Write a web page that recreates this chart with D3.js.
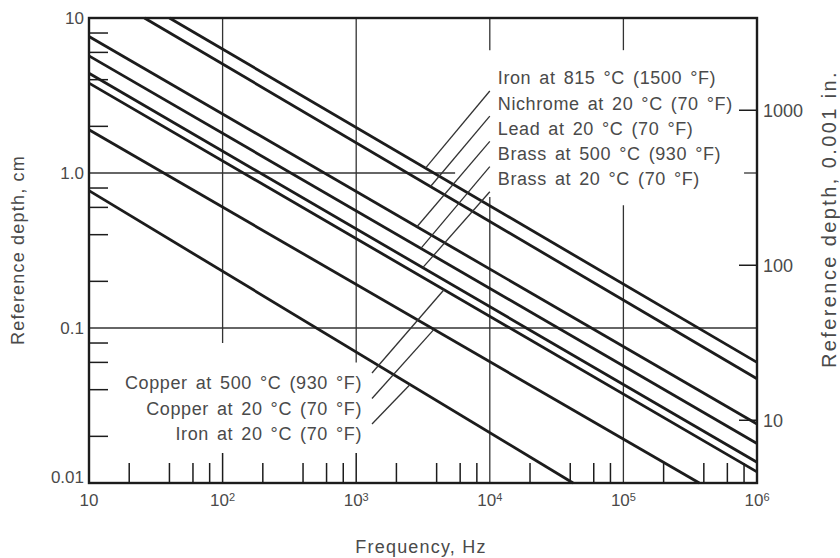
<!DOCTYPE html>
<meta charset="utf-8">
<style>
    body { margin: 0; background: #fff; }
    svg { display: block; font-family: "Liberation Sans", Arial, sans-serif; }
</style>
<svg width="840" height="558"></svg>

<script src="https://d3js.org/d3.v7.min.js"></script>
<script>
    var materials = [
        "Iron at 815 \u00b0C (1500 \u00b0F)",
        "Nichrome at 20 \u00b0C (70 \u00b0F)",
        "Lead at 20 \u00b0C (70 \u00b0F)",
        "Brass at 500 \u00b0C (930 \u00b0F)",
        "Brass at 20 \u00b0C (70 \u00b0F)",
        "Copper at 500 \u00b0C (930 \u00b0F)",
        "Copper at 20 \u00b0C (70 \u00b0F)",
        "Iron at 20 \u00b0C (70 \u00b0F)"
    ];
    var startFreq = [40, 26, 10, 10, 10, 10, 10, 10];
    var startDepth = [10, 10, 7.6, 5.7, 4.4, 3.8, 1.9, 0.77];
    var endFreq = [1e6, 1e6, 1e6, 1e6, 1e6, 1e6, 3.7e5, 4.2e4];
    var endDepth = [0.06, 0.047, 0.024, 0.018, 0.0136, 0.0118, 0.01, 0.01];
    // frequency where each leader line meets its curve
    var leaderFreq = [3300, 3600, 2850, 3050, 3150, 4540, 3820, 2530];

    var freqTicks = [10, 100, 1e3, 1e4, 1e5, 1e6];
    var freqTickExp = ["", "2", "3", "4", "5", "6"];
    var depthTicks = [10, 1, 0.1, 0.01];
    var depthTickLabels = ["10", "1.0", "0.1", "0.01"];
    var milTicks = [1000, 100, 10];
    var minorMult = [2, 4, 6, 8];

    // gridline pieces (in cm for vertical, Hz for horizontal)
    var vGridFreq = [100, 1e3, 1e4, 1e4, 1e5, 1e5];
    var vGridFrom = [10, 10, 10, 0.7, 10, 0.62];
    var vGridTo = [0.08, 0.06, 6.2, 0.01, 6.2, 0.01];
    var hGridDepth = [1, 1, 0.1];
    var hGridFrom = [10, 8e5, 10];
    var hGridTo = [5500, 1e6, 1e6];

    (function () {
        var svg = d3.select("svg"),
            mLeft = 89, mRight = 757, mTop = 18, mBottom = 483,
            x = d3.scaleLog().domain([10, 1e6]).range([mLeft, mRight]),
            y = d3.scaleLog().domain([0.01, 10]).range([mBottom, mTop]),
            yMil = d3.scaleLog().domain([0.01 / 0.00254, 10 / 0.00254]).range([mBottom, mTop]),
            ink = "#1c1c1c",
            textInk = "#4a4a4a";

        function depthAt(i, f) {
            var t = Math.log(f / startFreq[i]) / Math.log(endFreq[i] / startFreq[i]);
            return startDepth[i] * Math.pow(endDepth[i] / startDepth[i], t);
        }

        // grid
        var grid = svg.append("g").attr("stroke", "#333").attr("stroke-width", 1.3);
        vGridFreq.forEach(function (f, i) {
            grid.append("line")
                .attr("x1", x(f)).attr("x2", x(f))
                .attr("y1", y(vGridFrom[i])).attr("y2", y(vGridTo[i]));
        });
        hGridDepth.forEach(function (d, i) {
            grid.append("line")
                .attr("x1", x(hGridFrom[i])).attr("x2", x(hGridTo[i]))
                .attr("y1", y(d)).attr("y2", y(d));
        });

        // ticks
        var ticks = svg.append("g").attr("stroke", ink).attr("stroke-width", 1.5);
        d3.range(1, 6).forEach(function (k) {
            minorMult.forEach(function (m) {
                var f = m * Math.pow(10, k);
                ticks.append("line")
                    .attr("x1", x(f)).attr("x2", x(f))
                    .attr("y1", mBottom).attr("y2", mBottom - 20);
            });
        });
        freqTicks.slice(1, 3).forEach(function (f) {
            ticks.append("line")
                .attr("x1", x(f)).attr("x2", x(f))
                .attr("y1", mBottom).attr("y2", mBottom - 30);
        });
        d3.range(-2, 1).forEach(function (k) {
            minorMult.forEach(function (m) {
                var d = m * Math.pow(10, k);
                ticks.append("line")
                    .attr("x1", mLeft).attr("x2", mLeft + 19)
                    .attr("y1", y(d)).attr("y2", y(d));
            });
        });
        milTicks.forEach(function (m) {
            ticks.append("line")
                .attr("x1", mRight).attr("x2", mRight - 18)
                .attr("y1", yMil(m)).attr("y2", yMil(m));
        });

        // curves
        var line = d3.line()
            .x(function (p) { return x(p[0]); })
            .y(function (p) { return y(p[1]); });
        svg.append("g")
            .selectAll("path")
            .data(materials)
            .enter()
            .append("path")
            .attr("d", function (name, i) {
                return line([[startFreq[i], startDepth[i]], [endFreq[i], endDepth[i]]]);
            })
            .attr("fill", "none")
            .attr("stroke", ink)
            .attr("stroke-width", 2.8);

        // frame
        svg.append("rect")
            .attr("x", mLeft).attr("y", mTop)
            .attr("width", mRight - mLeft).attr("height", mBottom - mTop)
            .attr("fill", "none").attr("stroke", ink).attr("stroke-width", 2.4);

        // labels with leaders
        var labels = svg.append("g")
            .attr("font-size", 18)
            .attr("fill", textInk)
            .attr("letter-spacing", 0.6)
            .attr("word-spacing", 2.5);
        var leaders = svg.append("g").attr("stroke", "#333").attr("stroke-width", 1.3);

        materials.forEach(function (name, i) {
            var onRight = i < 5,
                k = onRight ? i : i - 5,
                ty = onRight ? 78 + 25.2 * k : 383 + 25.5 * k,
                tx = onRight ? x(1e4) + 8 : 362,
                sx = onRight ? x(1e4) : 372,
                sy = onRight ? ty + 13 : ty - 10;
            labels.append("text")
                .attr("x", tx).attr("y", ty)
                .attr("dy", "0.35em")
                .attr("text-anchor", onRight ? "start" : "end")
                .text(name);
            leaders.append("line")
                .attr("x1", sx).attr("y1", sy)
                .attr("x2", x(leaderFreq[i])).attr("y2", y(depthAt(i, leaderFreq[i])));
        });

        // tick labels
        var tickText = svg.append("g").attr("font-size", 17).attr("fill", textInk);
        depthTicks.forEach(function (d, i) {
            tickText.append("text")
                .attr("x", mLeft - 5)
                .attr("y", y(d) - (d === 0.01 ? 6 : 0))
                .attr("dy", "0.35em")
                .attr("text-anchor", "end")
                .text(depthTickLabels[i]);
        });
        freqTicks.forEach(function (f, i) {
            var t = tickText.append("text")
                .attr("x", x(f))
                .attr("y", 500)
                .attr("dy", "0.35em")
                .attr("text-anchor", "middle");
            t.append("tspan").text("10");
            if (freqTickExp[i]) {
                t.append("tspan").attr("dy", "-0.45em").attr("font-size", 11).text(freqTickExp[i]);
            }
        });
        milTicks.forEach(function (m) {
            tickText.append("text")
                .attr("x", mRight + 6)
                .attr("y", yMil(m))
                .attr("dy", "0.35em")
                .attr("font-size", 18)
                .text(m);
        });

        // axis titles
        var titles = svg.append("g").attr("font-size", 18).attr("fill", textInk)
            .attr("text-anchor", "middle").attr("letter-spacing", 1.2);
        titles.append("text")
            .attr("x", 421).attr("y", 547).attr("dy", "0.35em")
            .text("Frequency, Hz");
        titles.append("text")
            .attr("transform", "translate(18,250) rotate(-90)")
            .attr("dy", "0.35em")
            .text("Reference depth, cm");
        titles.append("text")
            .attr("transform", "translate(829,219) rotate(-90)")
            .attr("dy", "0.35em")
            .attr("font-size", 20)
            .attr("letter-spacing", 2.4)
            .text("Reference depth, 0.001 in.");
    })();
</script>
